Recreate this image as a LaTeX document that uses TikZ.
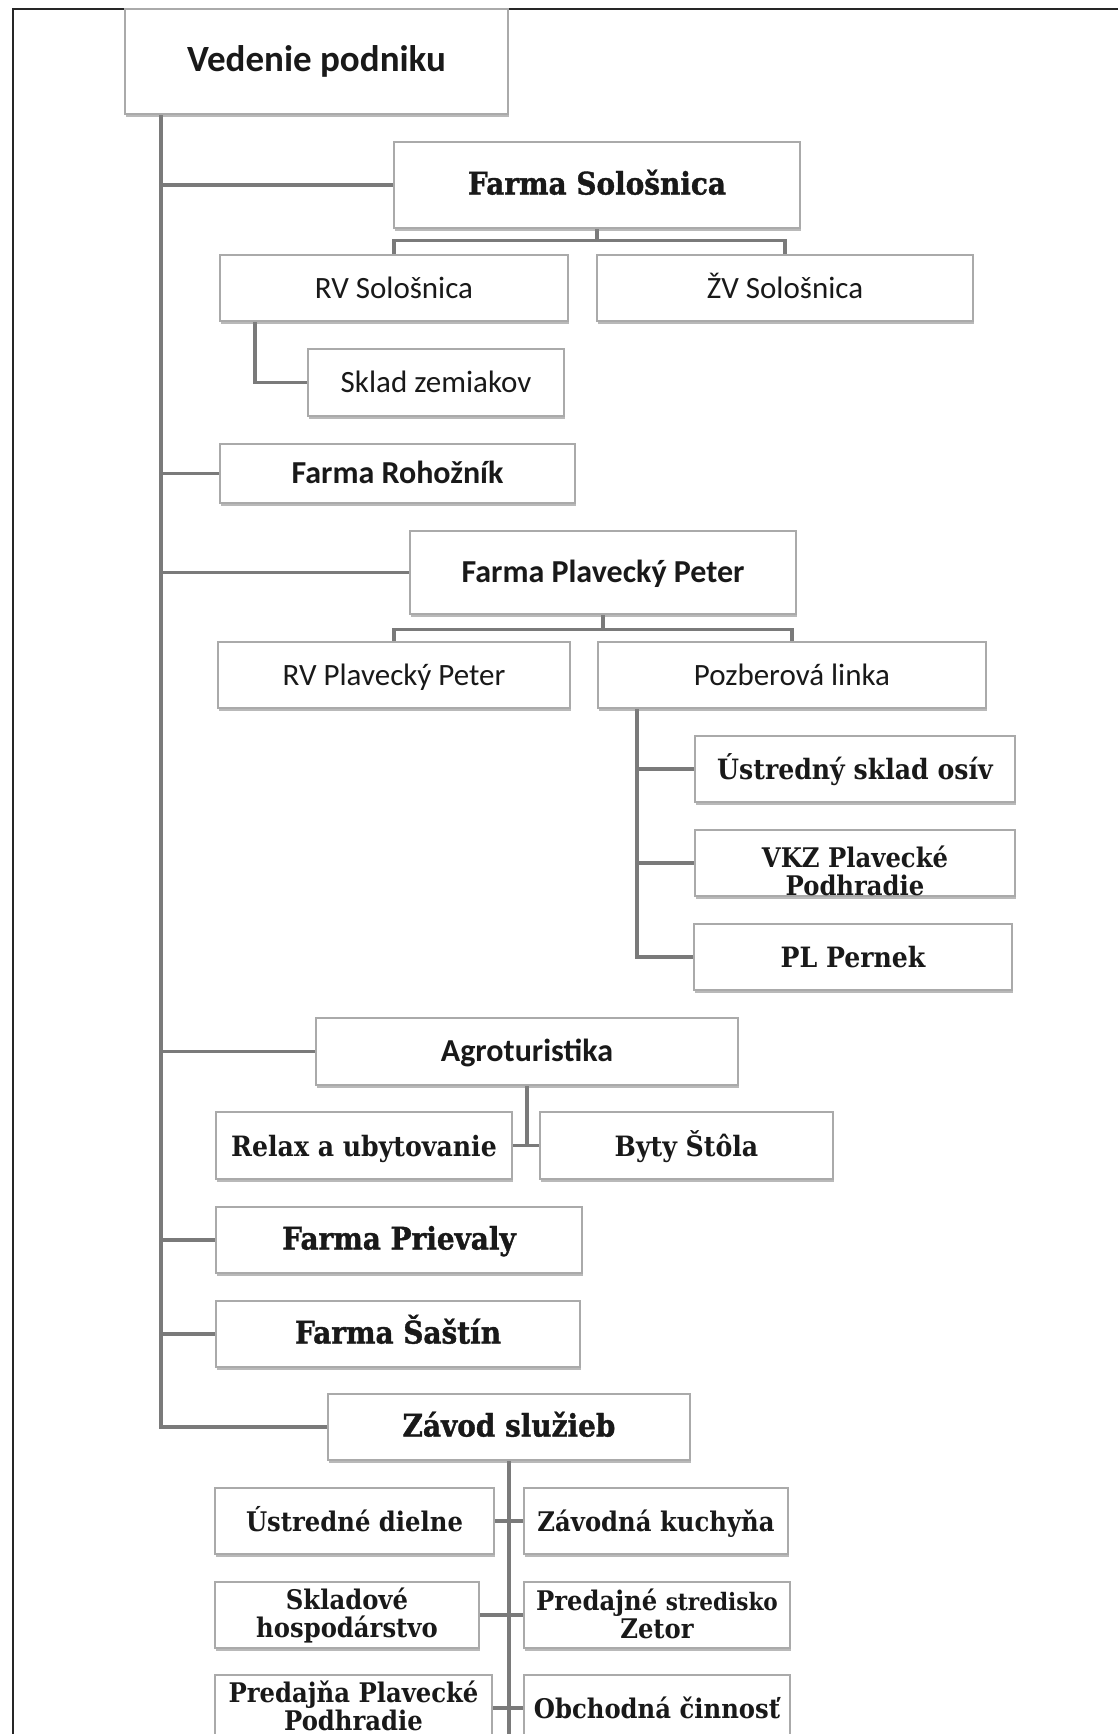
\documentclass[tikz,border=0pt]{standalone}
\usepackage{fontspec}
\usetikzlibrary{shadows,backgrounds}
\newfontfamily\calf{Carlito}
\newfontfamily\slabf[FakeStretch=0.9]{DejaVu Serif}
\newfontfamily\slabh[FakeStretch=0.9,BoldFeatures={FakeBold=1.2}]{DejaVu Serif}
\definecolor{conngray}{RGB}{122,122,122}
\definecolor{boxline}{RGB}{170,170,170}
\definecolor{ink}{RGB}{25,25,25}
\tikzset{
  box/.style={draw=boxline, line width=1.2pt, fill=white, inner sep=0pt, text=ink, align=center,
    drop shadow={shadow xshift=0.6pt, shadow yshift=-2.6pt, fill=black!50, opacity=0.55}},
  conn/.style={draw=conngray, line width=3.5pt},
  cb/.style={font=\calf\bfseries\fontsize{32}{36}\selectfont, text height=22pt, text depth=2pt},
  cr/.style={font=\calf\fontsize{31}{36}\selectfont, text height=22pt, text depth=2pt},
  sb/.style={font=\slabf\bfseries\fontsize{28}{31}\selectfont, text height=23pt, text depth=2pt},
  sbb/.style={font=\slabh\bfseries\fontsize{31}{34}\selectfont, text height=21pt, text depth=2pt},
  sbs/.style={font=\slabf\bfseries\fontsize{27}{31}\selectfont, text height=23pt, text depth=2pt},
  ml/.style={font=\slabf\bfseries\fontsize{27}{28}\selectfont},
  lbl/.style={text=ink, inner sep=0pt, align=center}
}
\begin{document}
\begin{tikzpicture}[x=1pt,y=-1pt]
\useasboundingbox (0,0) rectangle (1118,1734);
\clip (0,0) rectangle (1118,1734);

% coordinates for connector bends
\coordinate (trunktop) at (161,114);
\coordinate (rvsdrop) at (255,321);
\coordinate (pldrop) at (637,708);
\coordinate (zsbottom) at (509,1734);

% boxes
\node[box, minimum width=383pt, minimum height=105pt, font=\calf\bfseries\fontsize{37}{40}\selectfont] (vp) at (316.5,61.5) {Vedenie podniku};
\node[box, sbb, minimum width=406pt, minimum height=86pt] (fs) at (597,185) {Farma Sološnica};
\node[box, cr, minimum width=348pt, minimum height=66pt] (rvs) at (394,288) {RV Sološnica};
\node[box, cr, minimum width=376pt, minimum height=66pt] (zvs) at (785,288) {ŽV Sološnica};
\node[box, cr, minimum width=256pt, minimum height=67pt] (sz) at (436,382.5) {Sklad zemiakov};
\node[box, cb, minimum width=355pt, minimum height=59pt] (fr) at (397.5,473.5) {Farma Rohožník};
\node[box, cb, minimum width=386pt, minimum height=83pt] (fpp) at (603,572.5) {Farma Plavecký Peter};
\node[box, cr, minimum width=352pt, minimum height=66pt] (rvpp) at (394,675) {RV Plavecký Peter};
\node[box, cr, minimum width=388pt, minimum height=66pt] (pl) at (792,675) {Pozberová linka};
\node[box, sb, minimum width=320pt, minimum height=66pt] (usk) at (855,769) {Ústredný sklad osív};
\node[box, minimum width=320pt, minimum height=66pt] (vkz) at (855,863) {};
\node[box, sb, minimum width=318pt, minimum height=66pt] (pern) at (853,957) {PL Pernek};
\node[box, cb, minimum width=422pt, minimum height=67pt] (ag) at (527,1051.5) {Agroturistika};
\node[box, sb, minimum width=296pt, minimum height=67pt] (relax) at (364,1145.5) {Relax a ubytovanie};
\node[box, sb, minimum width=293pt, minimum height=67pt] (byty) at (686.5,1145.5) {Byty Štôla};
\node[box, sbb, minimum width=366pt, minimum height=66pt] (prv) at (399,1240) {Farma Prievaly};
\node[box, sbb, minimum width=364pt, minimum height=66pt] (sas) at (398,1334) {Farma Šaštín};
\node[box, sbb, minimum width=362pt, minimum height=66pt] (zs) at (509,1427) {Závod služieb};
\node[box, sbs, minimum width=279pt, minimum height=66pt] (ud) at (354.5,1521) {Ústredné dielne};
\node[box, sbs, minimum width=264pt, minimum height=66pt] (zk) at (656,1521) {Závodná kuchyňa};
\node[box, minimum width=264pt, minimum height=66pt] (sh) at (347,1615) {};
\node[box, minimum width=266pt, minimum height=66pt] (pz) at (657,1615) {};
\node[box, minimum width=277pt, minimum height=66pt] (pp) at (353.5,1708) {};
\node[box, sbs, minimum width=266pt, minimum height=66pt] (oc) at (657,1708) {Obchodná činnosť};

% multi-line labels
\node[lbl, ml] (vkzt) at (855,871) {VKZ Plavecké\\Podhradie};
\node[lbl, ml] (sht) at (347,1615) {Skladové\\hospodárstvo};
\node[lbl, ml] (pzt) at (657,1614) {Predajné {\fontsize{24}{28}\selectfont stredisko}\\Zetor};
\node[lbl, ml] (ppt) at (353.5,1706) {Predajňa Plavecké\\Podhradie};

% connectors and frame
\begin{pgfonlayer}{background}
\fill[white] (0,0) rectangle (1118,1734);
\draw[line width=2pt, black!85] (13,1734) -- (13,9) -- (1118,9);
\draw[conn] (trunktop) |- (zs.west);
\draw[conn] (trunktop |- fs.west) -- (fs.west);
\draw[conn] (trunktop |- fr.west) -- (fr.west);
\draw[conn] (trunktop |- fpp.west) -- (fpp.west);
\draw[conn] (trunktop |- ag.west) -- (ag.west);
\draw[conn] (trunktop |- prv.west) -- (prv.west);
\draw[conn] (trunktop |- sas.west) -- (sas.west);

\draw[conn] (fs.south) -- ++(0,12) -| (rvs.north);
\draw[conn] (fs.south) ++(0,12) -| (zvs.north);
\draw[conn] (rvsdrop) |- (sz.west);

\draw[conn] (fpp.south) -- ++(0,15) -| (rvpp.north);
\draw[conn] (fpp.south) ++(0,15) -| (pl.north);
\draw[conn] (pldrop) |- (pern.west);
\draw[conn] (pldrop |- usk.west) -- (usk.west);
\draw[conn] (pldrop |- vkz.west) -- (vkz.west);

\draw[conn] (ag.south) -- (ag.south |- relax.east);
\draw[conn] (relax.east) -- (byty.west);

\draw[conn] (zs.south) -- (zsbottom);
\draw[conn] (ud.east) -- (zk.west);
\draw[conn] (sh.east) -- (pz.west);
\draw[conn] (pp.east) -- (oc.west);
\end{pgfonlayer}
\end{tikzpicture}
\end{document}
